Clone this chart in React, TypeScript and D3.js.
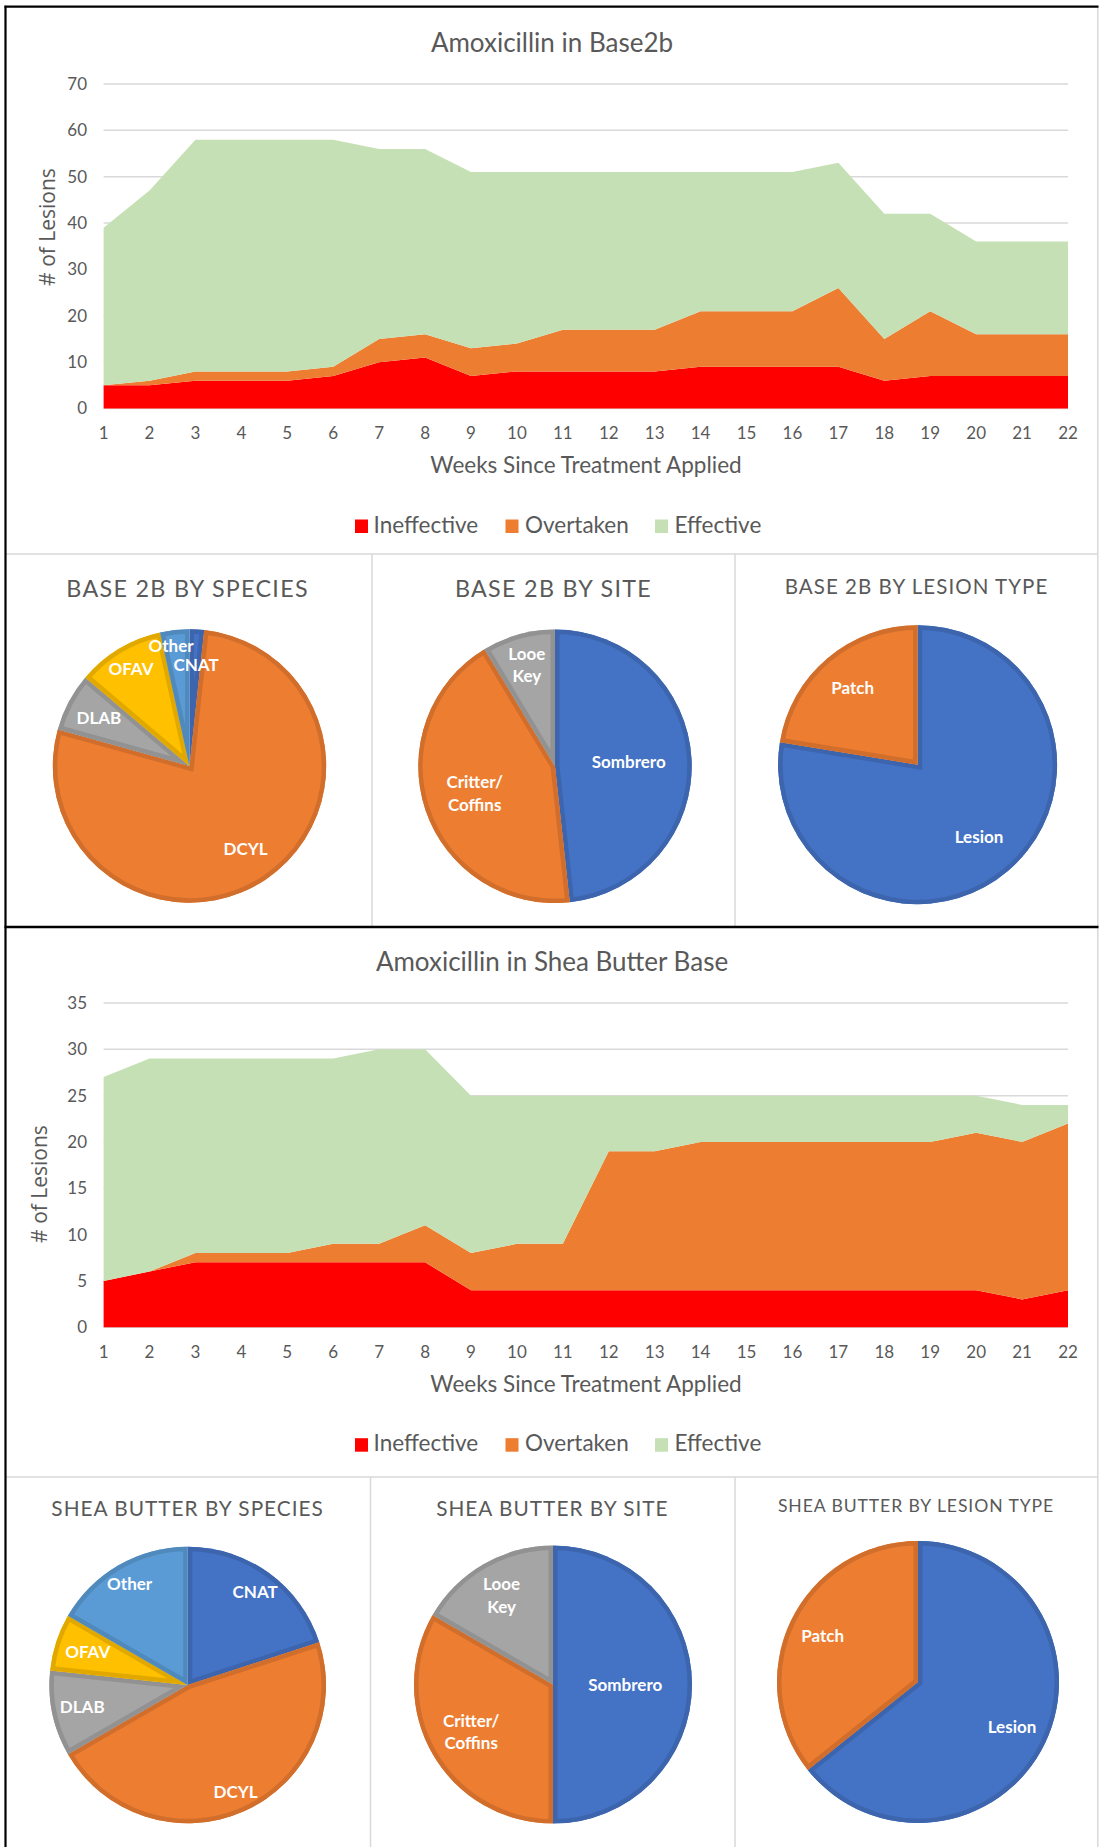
import React from "react";
import * as d3 from "d3";

// ---------- data ----------
const weeks = [1, 2, 3, 4, 5, 6, 7, 8, 9, 10, 11, 12, 13, 14, 15, 16, 17, 18, 19, 20, 21, 22];
const seriesNames = ["Ineffective", "Overtaken", "Effective"];
const seriesColors = ["#FF0000", "#ED7D31", "#C5E0B4"];

const base2bIneffective = [5, 5, 6, 6, 6, 7, 10, 11, 7, 8, 8, 8, 8, 9, 9, 9, 9, 6, 7, 7, 7, 7];
const base2bOvertaken = [0, 1, 2, 2, 2, 2, 5, 5, 6, 6, 9, 9, 9, 12, 12, 12, 17, 9, 14, 9, 9, 9];
const base2bEffective = [34, 41, 50, 50, 50, 49, 41, 40, 38, 37, 34, 34, 34, 30, 30, 30, 27, 27, 21, 20, 20, 20];
const base2bTicks = [0, 10, 20, 30, 40, 50, 60, 70];

const sheaIneffective = [5, 6, 7, 7, 7, 7, 7, 7, 4, 4, 4, 4, 4, 4, 4, 4, 4, 4, 4, 4, 3, 4];
const sheaOvertaken = [0, 0, 1, 1, 1, 2, 2, 4, 4, 5, 5, 15, 15, 16, 16, 16, 16, 16, 16, 17, 17, 18];
const sheaEffective = [22, 23, 21, 21, 21, 20, 21, 19, 17, 16, 16, 6, 6, 5, 5, 5, 5, 5, 5, 4, 4, 2];
const sheaTicks = [0, 5, 10, 15, 20, 25, 30, 35];

const speciesNames = ["CNAT", "DCYL", "DLAB", "OFAV", "Other"];
const speciesColors = ["#4472C4", "#ED7D31", "#A5A5A5", "#FFC000", "#5B9BD5"];
const base2bSpeciesCounts = [1, 45, 4, 6, 2];
const sheaSpeciesCounts = [6, 14, 3, 2, 5];

const siteNames = ["Sombrero", "Critter/\nCoffins", "Looe\nKey"];
const siteColors = ["#4472C4", "#ED7D31", "#A5A5A5"];
const base2bSiteCounts = [28, 25, 5];
const sheaSiteCounts = [15, 10, 5];

const lesionNames = ["Lesion", "Patch"];
const lesionColors = ["#4472C4", "#ED7D31"];
const base2bLesionCounts = [45, 13];
const sheaLesionCounts = [18, 10];

// label distance from centre (fraction of radius) and angle nudge (deg), layout only
const base2bSpeciesLabelR = [0.74, 0.73, 0.75, 0.83, 0.89];
const base2bSpeciesLabelNudge = [0.6, 0, 0, 0, -2.5];
const base2bSiteLabelR = [0.54, 0.62, 0.77];
const base2bLesionLabelR = [0.68, 0.72];
const sheaSpeciesLabelR = [0.83, 0.85, 0.78, 0.76, 0.84];
const sheaSiteLabelR = [0.52, 0.68, 0.74];
const sheaLesionLabelR = [0.74, 0.75];

const FONT = "Lato, 'Liberation Sans', sans-serif";
const TEXT = "#595959";
const GRID = "#D9D9D9";

type AreaProps = {
  title: string;
  plotTop: number;
  plotBottom: number;
  yMax: number;
  ticks: number[];
  ineffective: number[];
  overtaken: number[];
  effective: number[];
  yTitleX: number;
  yTitleY: number;
};

function AreaChart(p: AreaProps) {
  const x = d3.scaleLinear().domain([1, 22]).range([103.6, 1068]);
  const y = d3.scaleLinear().domain([0, p.yMax]).range([p.plotBottom, p.plotTop]);
  const rows = weeks.map((w, i) => ({
    week: w,
    Ineffective: p.ineffective[i],
    Overtaken: p.overtaken[i],
    Effective: p.effective[i],
  }));
  const stack = d3.stack<any>().keys(seriesNames);
  const layers = stack(rows);
  const area = d3
    .area<any>()
    .x((d) => x(d.data.week))
    .y0((d) => y(d[0]))
    .y1((d) => y(d[1]));
  const pb = p.plotBottom;
  const legendX = [355, 505.5, 655];
  const legendTextX = [373.5, 525, 674.5];
  return (
    <g>
      <text x={552} y={pb - 356.5} textAnchor="middle" fontFamily={FONT} fontSize={26} fill={TEXT}>
        {p.title}
      </text>
      {p.ticks.map((t) => (
        <g key={t}>
          <line x1={103.6} x2={1068} y1={y(t)} y2={y(t)} stroke={GRID} strokeWidth={1.5} />
          <text x={87} y={y(t)} dy="0.35em" textAnchor="end" fontFamily={FONT} fontSize={17} fill={TEXT}>
            {t}
          </text>
        </g>
      ))}
      {layers.map((l, i) => (
        <path key={l.key} d={area(l as any) || ""} fill={seriesColors[i]} />
      ))}
      {weeks.map((w) => (
        <text key={w} x={x(w)} y={pb + 30.5} textAnchor="middle" fontFamily={FONT} fontSize={17} fill={TEXT}>
          {w}
        </text>
      ))}
      <text x={586} y={pb + 64.5} textAnchor="middle" fontFamily={FONT} fontSize={22.5} fill={TEXT}>
        Weeks Since Treatment Applied
      </text>
      <text
        transform={`translate(${p.yTitleX},${p.yTitleY}) rotate(-90)`}
        textAnchor="middle"
        fontFamily="'Open Sans', 'Noto Sans', sans-serif"
        fontSize={21}
        fill={TEXT}
      >
        # of Lesions
      </text>
      {seriesNames.map((s, i) => (
        <g key={s}>
          <rect x={legendX[i]} y={pb + 111} width={13} height={13.5} fill={seriesColors[i]} />
          <text x={legendTextX[i]} y={pb + 124} fontFamily={FONT} fontSize={22.5} fill={TEXT}>
            {s}
          </text>
        </g>
      ))}
    </g>
  );
}

type PieProps = {
  id: string;
  cx: number;
  cy: number;
  r: number;
  values: number[];
  names: string[];
  colors: string[];
  labelR: number[];
  labelNudge?: number[];
  title: string;
  titleX: number;
  titleY: number;
  titleSize: number;
  titleSpacing: number;
};

function PieChart(p: PieProps) {
  const pie = d3.pie<number>().sort(null).value((d) => d);
  const arcs = pie(p.values);
  const arc = d3.arc<any>().innerRadius(0).outerRadius(p.r);
  return (
    <g>
      <text
        x={p.titleX}
        y={p.titleY}
        textAnchor="middle"
        fontFamily={FONT}
        fontSize={p.titleSize}
        letterSpacing={p.titleSpacing}
        fill={TEXT}
      >
        {p.title}
      </text>
      <g transform={`translate(${p.cx},${p.cy})`}>
        <defs>
          {arcs.map((a, i) => (
            <clipPath key={i} id={`${p.id}-clip-${i}`}>
              <path d={arc(a) || ""} />
            </clipPath>
          ))}
        </defs>
        {arcs.map((a, i) => {
          const d = arc(a) || "";
          const dark = d3.color(p.colors[i])!.darker(0.35).formatHex();
          return (
            <g key={i}>
              <path d={d} fill={p.colors[i]} />
              <path d={d} fill="none" stroke={dark} strokeWidth={9} clipPath={`url(#${p.id}-clip-${i})`} />
            </g>
          );
        })}
        {arcs.map((a, i) => {
          const nudge = p.labelNudge ? p.labelNudge[i] : 0;
          const mid = (a.startAngle + a.endAngle) / 2 + (nudge * Math.PI) / 180;
          const rr = p.r * p.labelR[i];
          const lx = Math.sin(mid) * rr;
          const ly = -Math.cos(mid) * rr;
          const lines = p.names[i].split("\n");
          const lh = 22.4;
          return (
            <text
              key={i}
              x={lx}
              textAnchor="middle"
              fontFamily={FONT}
              fontWeight={700}
              fontSize={17}
              fill="#FFFFFF"
            >
              {lines.map((t, j) => (
                <tspan key={j} x={lx} y={ly + (j - (lines.length - 1) / 2) * lh} dy="0.35em">
                  {t}
                </tspan>
              ))}
            </text>
          );
        })}
      </g>
    </g>
  );
}

export default function App() {
  return (
    <svg
      width={1100}
      height={1847}
      style={{ position: "absolute", left: 0, top: 0, background: "#FFFFFF" }}
    >
      <rect x={0} y={0} width={1100} height={1847} fill="#FFFFFF" />
      {/* panel frames */}
      <line x1={6} x2={1098} y1={554} y2={554} stroke={GRID} strokeWidth={1.5} />
      <line x1={372} x2={372} y1={554} y2={926} stroke={GRID} strokeWidth={1.5} />
      <line x1={735} x2={735} y1={554} y2={926} stroke={GRID} strokeWidth={1.5} />
      <line x1={6} x2={1098} y1={1477} y2={1477} stroke={GRID} strokeWidth={1.5} />
      <line x1={370.5} x2={370.5} y1={1477} y2={1847} stroke={GRID} strokeWidth={1.5} />
      <line x1={735} x2={735} y1={1477} y2={1847} stroke={GRID} strokeWidth={1.5} />
      <line x1={1097.8} x2={1097.8} y1={7} y2={1847} stroke={GRID} strokeWidth={1.5} />

      <AreaChart
        title="Amoxicillin in Base2b"
        plotTop={84}
        plotBottom={408.5}
        yMax={70}
        ticks={base2bTicks}
        ineffective={base2bIneffective}
        overtaken={base2bOvertaken}
        effective={base2bEffective}
        yTitleX={55}
        yTitleY={227}
      />
      <AreaChart
        title="Amoxicillin in Shea Butter Base"
        plotTop={1003}
        plotBottom={1327.2}
        yMax={35}
        ticks={sheaTicks}
        ineffective={sheaIneffective}
        overtaken={sheaOvertaken}
        effective={sheaEffective}
        yTitleX={47}
        yTitleY={1184}
      />

      <PieChart id="b2s" cx={189.5} cy={766} r={136.7} values={base2bSpeciesCounts} names={speciesNames} colors={speciesColors} labelR={base2bSpeciesLabelR} labelNudge={base2bSpeciesLabelNudge} title="BASE 2B BY SPECIES" titleX={187.6} titleY={597} titleSize={23.3} titleSpacing={1.3} />
      <PieChart id="b2t" cx={555} cy={766.3} r={136.7} values={base2bSiteCounts} names={siteNames} colors={siteColors} labelR={base2bSiteLabelR} title="BASE 2B BY SITE" titleX={553.5} titleY={597} titleSize={23.3} titleSpacing={1.3} />
      <PieChart id="b2l" cx={917.6} cy={764.7} r={139.5} values={base2bLesionCounts} names={lesionNames} colors={lesionColors} labelR={base2bLesionLabelR} title="BASE 2B BY LESION TYPE" titleX={916.5} titleY={593.5} titleSize={20.5} titleSpacing={1.05} />

      <PieChart id="shs" cx={187.7} cy={1685} r={138.3} values={sheaSpeciesCounts} names={speciesNames} colors={speciesColors} labelR={sheaSpeciesLabelR} title="SHEA BUTTER BY SPECIES" titleX={187.6} titleY={1515.5} titleSize={20.8} titleSpacing={1} />
      <PieChart id="sht" cx={553} cy={1684.6} r={139} values={sheaSiteCounts} names={siteNames} colors={siteColors} labelR={sheaSiteLabelR} title="SHEA BUTTER BY SITE" titleX={552.4} titleY={1515.5} titleSize={20.8} titleSpacing={1} />
      <PieChart id="shl" cx={918} cy={1682} r={141} values={sheaLesionCounts} names={lesionNames} colors={lesionColors} labelR={sheaLesionLabelR} title="SHEA BUTTER BY LESION TYPE" titleX={916} titleY={1512} titleSize={17.6} titleSpacing={0.9} />

      {/* outer black frame */}
      <line x1={5.5} x2={5.5} y1={5.7} y2={1847} stroke="#000000" strokeWidth={2.2} />
      <line x1={4.5} x2={1098.5} y1={6.7} y2={6.7} stroke="#000000" strokeWidth={2.2} />
      <line x1={4.5} x2={1098.5} y1={927} y2={927} stroke="#000000" strokeWidth={2.4} />
    </svg>
  );
}
